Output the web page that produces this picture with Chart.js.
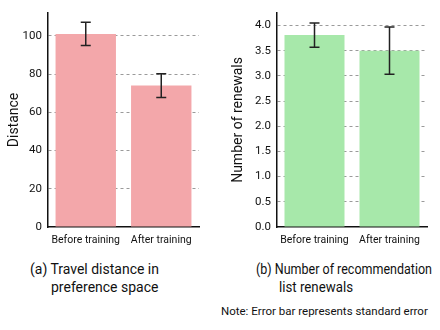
<!DOCTYPE html>
<html>
<head>
<meta charset="utf-8">
<script src="https://cdn.jsdelivr.net/npm/chart.js@4.4.1/dist/chart.umd.min.js"></script>
<style>
  html, body { margin: 0; padding: 0; background: #fff; }
  body { width: 440px; height: 330px; position: relative; overflow: hidden;
         font-family: Roboto, "Liberation Sans", sans-serif; color: #111; }
  .box { position: absolute; top: 0; width: 220px; height: 250px; }
  .cap { position: absolute; font-size: 14px; line-height: 18px; white-space: nowrap; transform-origin: 0 0; }
  .note { position: absolute; font-size: 11.5px; white-space: nowrap; transform-origin: 0 0; }
</style>
</head>
<body>
<div class="box" style="left:0"><canvas id="c1" width="220" height="250"></canvas></div>
<div class="box" style="left:220px"><canvas id="c2" width="220" height="250"></canvas></div>
<div class="cap" style="left:30px; top:260px;"><span data-w="129">(a) Travel distance in</span></div>
<div class="cap" style="left:51px; top:278px;"><span>preference space</span></div>
<div class="cap" style="left:256px; top:260px;"><span data-w="176">(b) Number of recommendation</span></div>
<div class="cap" style="left:279px; top:278px;"><span data-w="74">list renewals</span></div>
<div class="note" style="left:221px; top:304px;"><span data-w="207">Note: Error bar represents standard error</span></div>
<script>
const categories = ['Before training', 'After training'];
const distanceMean = [101, 74];
const distanceErr = [6.1, 6.2];
const renewalMean = [3.81, 3.50];
const renewalErr = [0.24, 0.47];
const distanceTicks = [0, 20, 40, 60, 80, 100];
const renewalTicks = [0, 0.5, 1.0, 1.5, 2.0, 2.5, 3.0, 3.5, 4.0];

const FONT = 'Roboto, "Liberation Sans", sans-serif';

// fit caption lines to the reference widths (horizontal squeeze only)
document.querySelectorAll('span[data-w]').forEach(sp => {
  const w = sp.getBoundingClientRect().width;
  const target = parseFloat(sp.dataset.w);
  if (w > target) {
    sp.parentElement.style.transform = 'scaleX(' + (target / w).toFixed(3) + ')';
  }
});

const errorBars = {
  id: 'errorBars',
  afterDatasetsDraw(chart, args, opts) {
    const ctx = chart.ctx;
    const meta = chart.getDatasetMeta(0);
    const y = chart.scales.y;
    ctx.save();
    ctx.strokeStyle = '#222';
    ctx.lineWidth = 1.5;
    meta.data.forEach((bar, i) => {
      const m = opts.mean[i], e = opts.err[i];
      const yt = y.getPixelForValue(m + e), yb = y.getPixelForValue(m - e);
      const x = bar.x, hw = 5;
      ctx.beginPath();
      ctx.moveTo(x, yt); ctx.lineTo(x, yb);
      ctx.moveTo(x - hw, yt); ctx.lineTo(x + hw, yt);
      ctx.moveTo(x - hw, yb); ctx.lineTo(x + hw, yb);
      ctx.stroke();
    });
    ctx.restore();
  }
};

function makeChart(id, mean, err, color, ymax, tickVals, title, fmt, padRight, yWidth, titlePad) {
  return new Chart(document.getElementById(id), {
    type: 'bar',
    data: {
      labels: categories,
      datasets: [{ data: mean, backgroundColor: color, borderWidth: 0,
                   barPercentage: 0.8, categoryPercentage: 1.0 }]
    },
    options: {
      responsive: false,
      animation: false,
      events: [],
      layout: { padding: { top: 9, right: padRight, left: 0, bottom: 0 } },
      plugins: { legend: { display: false }, tooltip: { enabled: false },
                 errorBars: { mean: mean, err: err } },
      scales: {
        x: {
          grid: { display: false, drawTicks: false },
          border: { display: true, color: '#111', width: 1.5 },
          ticks: { color: '#111', font: { family: FONT, size: 10.5 }, padding: 7,
                   maxRotation: 0, autoSkip: false },
          afterFit: s => { s.height = 23; }
        },
        y: {
          min: 0, max: ymax,
          afterBuildTicks: axis => { axis.ticks = tickVals.map(v => ({ value: v })); },
          grid: {
            drawTicks: false,
            color: c => (c.tick && c.tick.value === 0) ? 'rgba(0,0,0,0)' : '#9a9a9a',
            lineWidth: 1
          },
          border: { display: true, color: '#111', width: 1.5, dash: [3, 3] },
          ticks: { color: '#111', font: { family: FONT, size: 11.5 }, padding: 6,
                   callback: v => fmt(v) },
          title: { display: true, text: title, color: '#111',
                   font: { family: FONT, size: 14 }, padding: { top: titlePad, bottom: 0 } },
          afterFit: s => { s.width = yWidth; }
        }
      }
    },
    plugins: [errorBars]
  });
}

makeChart('c1', distanceMean, distanceErr, '#f3a7aa', 112, distanceTicks, 'Distance',
          v => String(v), 21, 48, 6);
makeChart('c2', renewalMean, renewalErr, '#a7e8aa', 4.25, renewalTicks, 'Number of renewals',
          v => Number(v).toFixed(1), 13, 57, 10);
</script>
</body>
</html>
